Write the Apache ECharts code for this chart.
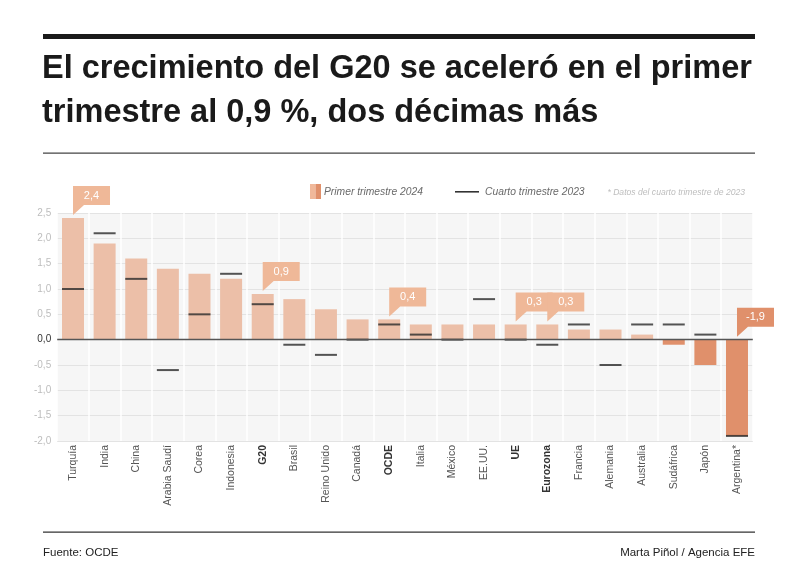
<!DOCTYPE html>
<html>
<head>
<meta charset="utf-8">
<script src="https://cdn.jsdelivr.net/npm/echarts@6/dist/echarts.min.js"></script>
<style>html,body{margin:0;padding:0;background:#fff}#c{width:800px;height:578px}</style>
</head>
<body>
<div id="c"></div>
<script>
const categories = ['Turquía','India','China','Arabia Saudí','Corea','Indonesia','G20','Brasil','Reino Unido','Canadá','OCDE','Italia','México','EE.UU.','UE','Eurozona','Francia','Alemania','Australia','Sudáfrica','Japón','Argentina*'];
const q1_2024 = [2.4, 1.9, 1.6, 1.4, 1.3, 1.2, 0.9, 0.8, 0.6, 0.4, 0.4, 0.3, 0.3, 0.3, 0.3, 0.3, 0.2, 0.2, 0.1, -0.1, -0.5, -1.9];
const q4_2023 = [1.0, 2.1, 1.2, -0.6, 0.5, 1.3, 0.7, -0.1, -0.3, 0.0, 0.3, 0.1, 0.0, 0.8, 0.0, -0.1, 0.3, -0.5, 0.3, 0.3, 0.1, -1.9];
const calloutCategories = ['Turquía','G20','OCDE','UE','Eurozona','Argentina*'];
const boldCategories = ['G20','OCDE','UE','Eurozona'];
const yMin = -2.0, yMax = 2.5, yStep = 0.5;

const FONT = "'Liberation Sans', Arial, Helvetica, sans-serif";
const LIGHT = '#ecbfa8', DARK = '#e0906b', CALL_LIGHT = '#efb898';
const fmt = v => v.toFixed(1).replace('.', ',');

const calloutIdx = calloutCategories.map(c => categories.indexOf(c));
const calloutData = calloutIdx.map(i => [i, q1_2024[i]]);

const chart = echarts.init(document.getElementById('c'), null, {renderer: 'canvas'});
chart.setOption({
  backgroundColor: '#fff',
  animation: false,
  textStyle: {fontFamily: FONT},
  grid: {left: 57.2, right: 47.2, top: 213, bottom: 137, show: true, backgroundColor: '#f6f6f6', borderWidth: 0},
  xAxis: {
    type: 'category',
    data: categories,
    axisLine: {show: false},
    axisTick: {show: false},
    splitLine: {show: true, interval: 0, lineStyle: {color: '#ffffff', width: 1.5}},
    axisLabel: {
      interval: 0, rotate: 90, margin: 4, color: '#555', fontSize: 10.5, fontFamily: FONT,
      formatter: v => boldCategories.includes(v) ? '{b|' + v + '}' : v,
      rich: {b: {fontWeight: 'bold', color: '#333', fontSize: 10.5, fontFamily: FONT}}
    }
  },
  yAxis: {
    type: 'value', min: yMin, max: yMax, interval: yStep,
    axisLine: {show: false}, axisTick: {show: false},
    splitLine: {lineStyle: {color: '#e3e3e3', width: 1}},
    axisLabel: {
      margin: 6, color: '#bdbdbd', fontSize: 10, fontFamily: FONT,
      formatter: v => Math.abs(v) < 1e-9 ? '{z|0,0}' : fmt(v),
      rich: {z: {color: '#333', fontSize: 10, fontFamily: FONT}}
    }
  },
  series: [
    {
      type: 'bar', data: q1_2024, barWidth: 22, z: 2,
      itemStyle: {color: p => p.value < 0 ? DARK : LIGHT},
      markLine: {
        silent: true, symbol: 'none', label: {show: false},
        lineStyle: {color: '#555', width: 1.3, type: 'solid'},
        data: [{yAxis: 0}]
      }
    },
    {
      type: 'scatter', data: q4_2023, symbol: 'rect', symbolSize: [22, 2], z: 4,
      itemStyle: {color: '#2a2a2a'}
    },
    {
      type: 'custom', z: 6, clip: false,
      data: calloutData,
      renderItem: (params, api) => {
        const idx = api.value(0), v = api.value(1);
        const p = api.coord([idx, Math.max(v, 0)]);
        const x = p[0], tip = p[1] - 3, bb = tip - 10, bt = bb - 19, w = 37;
        const col = v < 0 ? DARK : CALL_LIGHT;
        return {
          type: 'group',
          children: [
            {type: 'polygon', shape: {points: [[x, bt], [x + w, bt], [x + w, bb], [x + 11, bb], [x, tip], [x, bb]]}, style: {fill: col}},
            {type: 'text', style: {text: fmt(v), x: x + w / 2, y: (bt + bb) / 2, align: 'center', verticalAlign: 'middle', fill: '#fff', font: '11px ' + FONT}}
          ]
        };
      }
    }
  ],
  graphic: [
    {type: 'rect', shape: {x: 43, y: 34, width: 712, height: 5}, style: {fill: '#1a1a1a'}},
    {type: 'text', style: {text: 'El crecimiento del G20 se aceleró en el primer', x: 42, y: 69, verticalAlign: 'middle', fill: '#1a1a1a', font: 'bold 32.5px ' + FONT}},
    {type: 'text', style: {text: 'trimestre al 0,9 %, dos décimas más', x: 42, y: 113, verticalAlign: 'middle', fill: '#1a1a1a', font: 'bold 32.5px ' + FONT}},
    {type: 'rect', shape: {x: 43, y: 152.5, width: 712, height: 1.3}, style: {fill: '#444'}},
    {type: 'rect', shape: {x: 310, y: 184, width: 5.5, height: 15}, style: {fill: '#f0b89a'}},
    {type: 'rect', shape: {x: 315.5, y: 184, width: 5.5, height: 15}, style: {fill: '#e0906b'}},
    {type: 'text', style: {text: 'Primer trimestre 2024', x: 324, y: 192, verticalAlign: 'middle', fill: '#6a6a6a', font: 'italic 10.3px ' + FONT}},
    {type: 'rect', shape: {x: 455, y: 191, width: 24, height: 1.6}, style: {fill: '#333'}},
    {type: 'text', style: {text: 'Cuarto trimestre 2023', x: 485, y: 192, verticalAlign: 'middle', fill: '#6a6a6a', font: 'italic 10.3px ' + FONT}},
    {type: 'text', style: {text: '* Datos del cuarto trimestre de 2023', x: 745, y: 193, align: 'right', verticalAlign: 'middle', fill: '#bdbdbd', font: 'italic 8.6px ' + FONT}},
    {type: 'rect', shape: {x: 43, y: 531.5, width: 712, height: 1.3}, style: {fill: '#333'}},
    {type: 'text', style: {text: 'Fuente: OCDE', x: 43, y: 553, verticalAlign: 'middle', fill: '#222', font: '11.5px ' + FONT}},
    {type: 'text', style: {text: 'Marta Piñol / Agencia EFE', x: 755, y: 553, align: 'right', verticalAlign: 'middle', fill: '#222', font: '11.5px ' + FONT}}
  ]
});
</script>
</body>
</html>
